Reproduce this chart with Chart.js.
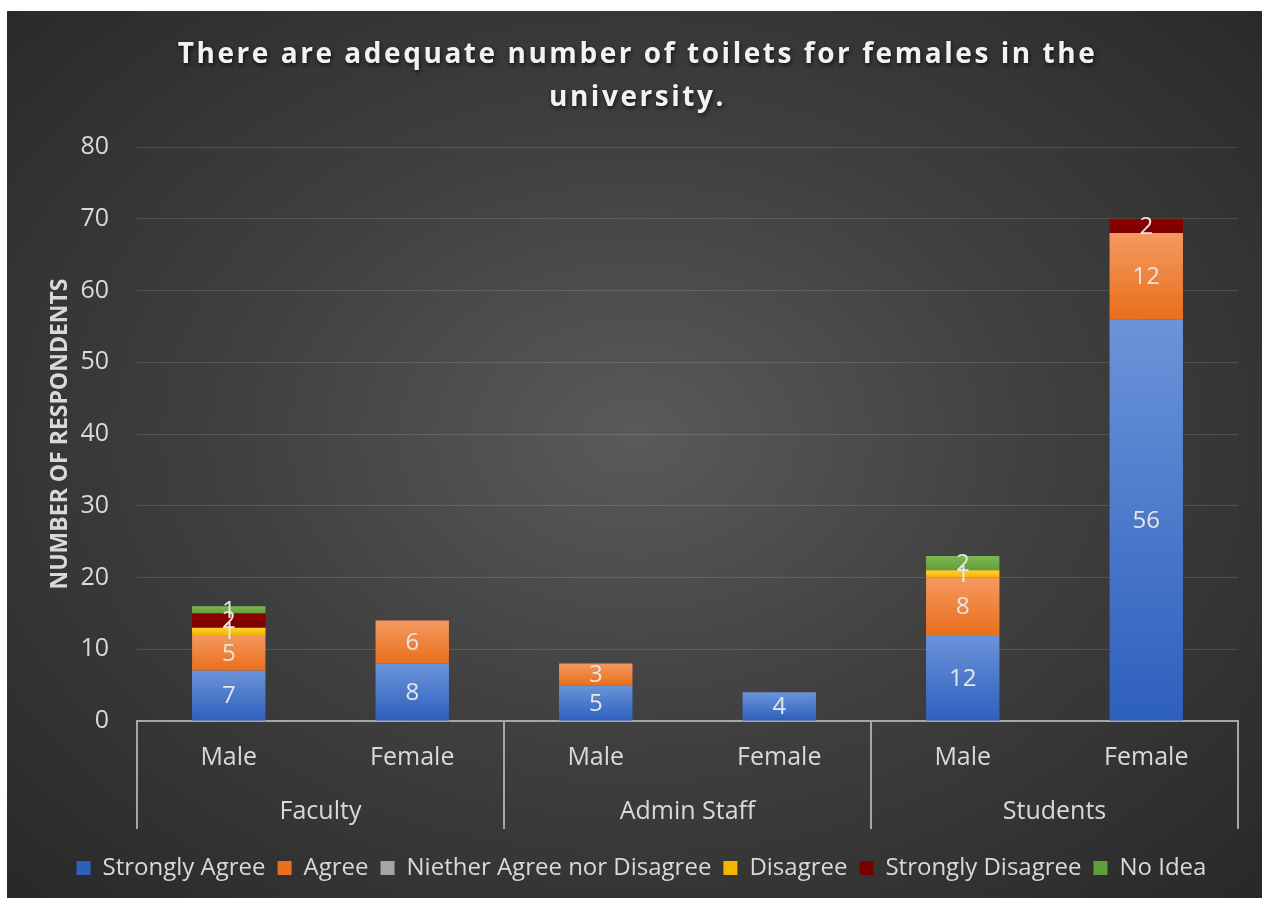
<!DOCTYPE html>
<html>
<head>
<meta charset="utf-8">
<title>Toilets for females</title>
<script src="https://cdn.jsdelivr.net/npm/chart.js@4.4.1/dist/chart.umd.min.js"></script>
<style>
  html, body { margin: 0; background: #fff; }
  #wrap {
    position: absolute; left: 7px; top: 11px; width: 1255px; height: 887px;
    background: radial-gradient(ellipse at 50% 48%, #5a5a5a 0%, #404040 45%, #282828 100%);
  }
  canvas { display: block; }
</style>
</head>
<body>
<div id="wrap"><canvas id="chart" width="1255" height="887" style="width:1255px;height:887px"></canvas></div>
<script>
/* data */
const titleLines = ["There are adequate number of toilets for females in the", "university."];
const groups = ["Faculty", "Admin Staff", "Students"];
const genders = ["Male", "Female", "Male", "Female", "Male", "Female"];
const seriesNames = ["Strongly Agree", "Agree", "Niether Agree nor Disagree", "Disagree", "Strongly Disagree", "No Idea"];
const stronglyAgree = [7, 8, 5, 4, 12, 56];
const agree = [5, 6, 3, null, 8, 12];
const neither = [null, null, null, null, null, null];
const disagree = [1, null, null, null, 1, null];
const stronglyDisagree = [2, null, null, null, null, 2];
const noIdea = [1, null, null, null, 2, null];
const yMax = 80;
const yStep = 10;

const FONT = "'Open Sans', sans-serif";
const TEXT = "#d9d9d9";

// per-bar vertical gradient, flat colour for the legend
function barFill(top, bottom, flat) {
  return function (c) {
    const chart = c.chart;
    if (c.type !== "data" || !chart.chartArea) return flat;
    const y = chart.scales.y;
    const di = c.datasetIndex, i = c.dataIndex;
    let start = 0;
    for (let k = 0; k < di; k++) start += chart.data.datasets[k].data[i] || 0;
    const end = start + (chart.data.datasets[di].data[i] || 0);
    if (end === start) return flat;
    const g = chart.ctx.createLinearGradient(0, y.getPixelForValue(end), 0, y.getPixelForValue(start));
    g.addColorStop(0, top);
    g.addColorStop(1, bottom);
    return g;
  };
}

// numbers in the middle of each segment
const valueLabels = {
  id: "valueLabels",
  afterDatasetsDraw(chart) {
    const ctx = chart.ctx;
    ctx.save();
    ctx.font = "24px " + FONT;
    ctx.fillStyle = "#e6e6e6";
    ctx.textAlign = "center";
    ctx.textBaseline = "middle";
    chart.data.datasets.forEach((ds, di) => {
      chart.getDatasetMeta(di).data.forEach((bar, i) => {
        const v = ds.data[i];
        if (!v) return;
        ctx.fillText(String(v), bar.x, (bar.y + bar.base) / 2 + 1);
      });
    });
    ctx.restore();
  }
};

// second row of the category axis: group names and separators
const groupAxis = {
  id: "groupAxis",
  afterDraw(chart) {
    const { ctx, chartArea: a, scales: { x } } = chart;
    const per = genders.length / groups.length;
    const edge = k => {
      if (k === 0) return a.left;
      if (k === groups.length) return a.right;
      return (x.getPixelForValue(k * per - 1) + x.getPixelForValue(k * per)) / 2;
    };
    ctx.save();
    ctx.strokeStyle = "#a6a6a6";
    ctx.lineWidth = 2;
    for (let k = 0; k <= groups.length; k++) {
      const px = Math.round(edge(k));
      ctx.beginPath();
      ctx.moveTo(px, a.bottom);
      ctx.lineTo(px, a.bottom + 108);
      ctx.stroke();
    }
    ctx.font = "25px " + FONT;
    ctx.fillStyle = TEXT;
    ctx.textAlign = "center";
    ctx.textBaseline = "middle";
    groups.forEach((g, k) => {
      ctx.fillText(g, (edge(k) + edge(k + 1)) / 2, a.bottom + 91);
    });
    ctx.restore();
  }
};

// spaced-out bold title with a soft shadow
const spacedTitle = {
  id: "spacedTitle",
  afterDraw(chart) {
    const ctx = chart.ctx;
    ctx.save();
    ctx.font = "bold 28px " + FONT;
    ctx.letterSpacing = "2.55px";
    ctx.fillStyle = "#f2f2f2";
    ctx.textAlign = "center";
    ctx.textBaseline = "middle";
    ctx.shadowColor = "rgba(0,0,0,0.7)";
    ctx.shadowBlur = 4;
    ctx.shadowOffsetX = 1;
    ctx.shadowOffsetY = 2;
    titleLines.forEach((t, i) => ctx.fillText(t, chart.width / 2 + 3, 44 + i * 43));
    ctx.restore();
  }
};

const fills = [
  barFill("#6b94d9", "#2d5fbd", "#4472c4"),
  barFill("#f5995f", "#e86f1c", "#ed7d31"),
  barFill("#b3b3b3", "#939393", "#a5a5a5"),
  barFill("#ffd035", "#f2b600", "#ffc000"),
  barFill("#8f0000", "#7a0000", "#8b0000"),
  barFill("#7cb954", "#5f9e3a", "#70ad47")
];
const seriesData = [stronglyAgree, agree, neither, disagree, stronglyDisagree, noIdea];

new Chart(document.getElementById("chart"), {
  type: "bar",
  data: {
    labels: genders,
    datasets: seriesNames.map((name, i) => ({
      label: name,
      data: seriesData[i],
      backgroundColor: fills[i],
      borderWidth: 0,
      barPercentage: 0.4,
      categoryPercentage: 1.0
    }))
  },
  options: {
    responsive: false,
    animation: false,
    layout: { padding: { top: 136, right: 24, left: 38, bottom: 8 } },
    plugins: {
      title: { display: false },
      tooltip: { enabled: false },
      legend: {
        position: "bottom",
        labels: {
          color: TEXT,
          font: { family: FONT, size: 24 },
          boxWidth: 14,
          boxHeight: 14,
          padding: 12
        }
      }
    },
    scales: {
      x: {
        stacked: true,
        grid: { display: false, drawTicks: false },
        border: { display: true, color: "#a6a6a6", width: 2 },
        ticks: { color: TEXT, font: { family: FONT, size: 25 }, padding: 22 },
        afterFit(scale) { scale.height = 123; }
      },
      y: {
        stacked: true,
        min: 0,
        max: yMax,
        grid: { color: "rgba(255,255,255,0.13)", lineWidth: 1, drawTicks: false },
        border: { display: false },
        ticks: { stepSize: yStep, color: TEXT, font: { family: FONT, size: 25 }, padding: 28 },
        title: {
          display: true,
          text: "NUMBER OF RESPONDENTS",
          color: TEXT,
          font: { family: FONT, size: 23, weight: "bold" },
          padding: { top: 2, bottom: 0 }
        },
        afterFit(scale) { scale.width = 92; }
      }
    }
  },
  plugins: [valueLabels, groupAxis, spacedTitle]
});
</script>
</body>
</html>
